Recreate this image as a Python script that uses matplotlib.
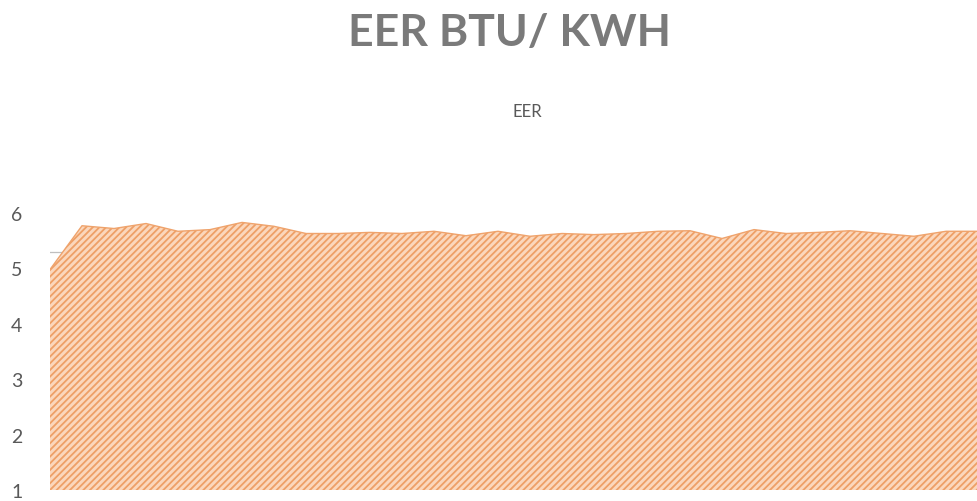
import matplotlib
matplotlib.use("Agg")
import matplotlib.pyplot as plt
import numpy as np

title = "EER BTU/ KWH"
series_name = "EER"
eer = [4.98, 5.77, 5.72, 5.81, 5.67, 5.70, 5.83, 5.76, 5.63, 5.63,
       5.65, 5.63, 5.67, 5.59, 5.67, 5.58, 5.63, 5.61, 5.63, 5.67,
       5.68, 5.54, 5.70, 5.63, 5.65, 5.68, 5.63, 5.58, 5.67, 5.67]
yticks = [1, 2, 3, 4, 5, 6]

plt.rcParams['hatch.linewidth'] = 1.3
plt.rcParams['font.family'] = ['Lato', 'DejaVu Sans']

fig = plt.figure(figsize=(9.77, 5.02), dpi=100)
ax = fig.add_axes([50/977, 11/502, 928/977, (491-214)/502])

x = np.arange(len(eer))
ax.fill_between(x, 1, eer, facecolor='#FBD7BC', edgecolor='#EE9F66',
                hatch='/////', linewidth=0, zorder=2)
ax.plot(x, eer, color='#EFA36C', lw=1.0, zorder=3)
ax.axhline(5.3, color='#BFBFBF', lw=0.9, zorder=1, xmin=-0.003)

ax.set_xlim(0, len(eer) - 1)
ax.set_ylim(1, 6)
ax.set_yticks(yticks)
ax.set_yticklabels([str(v) for v in yticks])
ax.tick_params(axis='y', length=0, pad=20, labelsize=14, labelcolor='#595959')
ax.tick_params(axis='x', length=0, labelbottom=False)
for s in ax.spines.values():
    s.set_visible(False)

fig.text(510/977, 1 - 33/502, title, ha='center', va='center',
         fontsize=32, fontweight='bold', color='#7A7A7A')
fig.text(527/977, 1 - 112/502, series_name, ha='center', va='center',
         fontsize=12, color='#595959')

fig.savefig("out.png", dpi=100)
